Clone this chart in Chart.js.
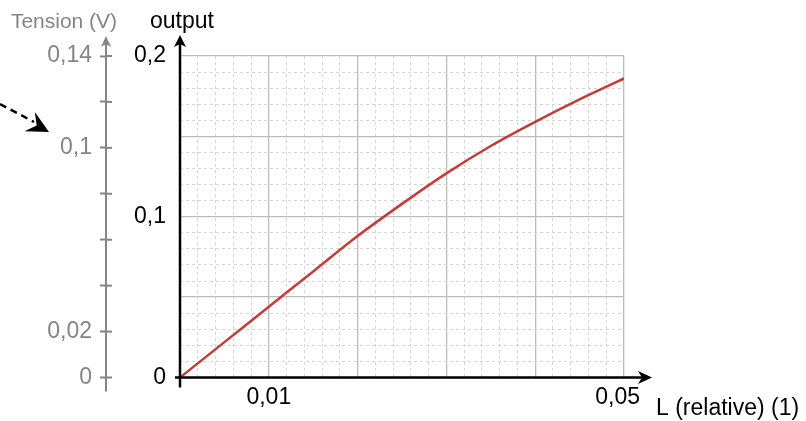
<!DOCTYPE html>
<html>
<head>
<meta charset="utf-8">
<script src="https://cdn.jsdelivr.net/npm/chart.js@4/dist/chart.umd.min.js"></script>
<style>
  body { margin: 0; background: #fff; }
  canvas { display: block; }
</style>
</head>
<body>
<canvas id="chart" width="806" height="421"></canvas>
<script>
// values
const lengthValues = [0, 0.005, 0.01, 0.015, 0.02, 0.025, 0.03, 0.035, 0.04, 0.045, 0.05];
const outputValues = [0, 0.022, 0.044, 0.066, 0.088, 0.108, 0.127, 0.144, 0.159, 0.173, 0.186];

// tick labels that are actually printed
const xTickLabels = { 0.01: '0,01', 0.05: '0,05  ' };
const yTickLabels = { 0: '0', 0.1: '0,1', 0.2: '0,2' };
const tensionTickLabels = { 0: '0', 0.02: '0,02', 0.1: '0,1', 0.14: '0,14' };

const FONT = "'Liberation Sans', Arial, sans-serif";
const GRAY = '#858585';

function pickLabel(table, value) {
    for (const k of Object.keys(table)) {
        if (Math.abs(Number(k) - value) < 1e-9) return table[k];
    }
    return '';
}

// grid: every 5th line solid, the others dashed
const gridColor = (ctx) => ctx.index % 5 === 0 ? '#bdbdbd' : '#d4d4d4';
const gridWidth = (ctx) => ctx.index % 5 === 0 ? 1.3 : 1;
const gridDash = (ctx) => (ctx.type === 'tick' && ctx.index % 5 !== 0) ? [3, 3] : [];

function arrowHead(ctx, tipX, tipY, dirX, dirY, len, half, notch) {
    const px = -dirY, py = dirX;
    const bx = tipX - dirX * len, by = tipY - dirY * len;
    ctx.beginPath();
    ctx.moveTo(tipX, tipY);
    ctx.lineTo(bx + px * half, by + py * half);
    ctx.lineTo(tipX - dirX * (len - notch), tipY - dirY * (len - notch));
    ctx.lineTo(bx - px * half, by - py * half);
    ctx.closePath();
    ctx.fill();
}

// axis lines, arrows and titles
const decorPlugin = {
    id: 'decor',
    afterDraw(chart) {
        const ctx = chart.ctx;
        const area = chart.chartArea;
        const tension = chart.scales.yT;
        ctx.save();

        // gray tension axis
        const gx = tension.right;
        ctx.strokeStyle = GRAY;
        ctx.fillStyle = GRAY;
        ctx.lineWidth = 2;
        ctx.beginPath();
        ctx.moveTo(gx, area.bottom + 14);
        ctx.lineTo(gx, 44);
        ctx.stroke();
        arrowHead(ctx, gx, 36, 0, -1, 11, 5, 3);
        // tick marks cross the axis
        tension.ticks.forEach((t) => {
            const y = tension.getPixelForValue(t.value);
            ctx.beginPath();
            ctx.moveTo(gx, y);
            ctx.lineTo(gx + 6, y);
            ctx.stroke();
        });

        // black axes
        ctx.strokeStyle = '#000';
        ctx.fillStyle = '#000';
        ctx.lineWidth = 2.5;
        ctx.beginPath();
        ctx.moveTo(area.left, area.bottom + 10);
        ctx.lineTo(area.left, 42);
        ctx.moveTo(area.left - 5, area.bottom);
        ctx.lineTo(644, area.bottom);
        ctx.stroke();
        arrowHead(ctx, area.left, 35, 0, -1, 12, 6, 3);
        arrowHead(ctx, 652, area.bottom, 1, 0, 14, 6.5, 4);

        // dashed pointer on the left
        ctx.lineWidth = 2.5;
        ctx.setLineDash([7, 5]);
        ctx.beginPath();
        ctx.moveTo(0, 104);
        ctx.lineTo(34, 122);
        ctx.stroke();
        ctx.setLineDash([]);
        arrowHead(ctx, 49, 132, 0.88, 0.47, 22, 11, 8);

        // titles
        ctx.textBaseline = 'middle';
        ctx.textAlign = 'center';
        ctx.font = '23px ' + FONT;
        ctx.fillStyle = '#000';
        ctx.fillText('output', area.left + 2, 22);
        ctx.fillStyle = GRAY;
        ctx.font = '21px ' + FONT;
        ctx.fillText('Tension (V)', 64, 22);
        ctx.fillStyle = '#000';
        ctx.font = '23px ' + FONT;
        ctx.textAlign = 'left';
        ctx.fillText('L (relative) (1)', 656, 409);
        ctx.restore();
    }
};

new Chart(document.getElementById('chart'), {
    type: 'line',
    data: {
        datasets: [{
            data: lengthValues.map((x, i) => ({ x: x, y: outputValues[i] })),
            borderColor: '#c43c3a',
            borderWidth: 2.5,
            pointRadius: 0,
            cubicInterpolationMode: 'monotone',
            fill: false
        }]
    },
    options: {
        responsive: false,
        animation: false,
        layout: { padding: { left: 0, right: 182, top: 56, bottom: 3 } },
        plugins: { legend: { display: false }, tooltip: { enabled: false } },
        scales: {
            x: {
                type: 'linear',
                min: 0,
                max: 0.05,
                afterBuildTicks: (scale) => {
                    scale.ticks = [];
                    for (let i = 0; i <= 25; i++) scale.ticks.push({ value: i * 0.002 });
                },
                afterFit: (scale) => { scale.height = 40.5; },
                grid: { color: gridColor, lineWidth: gridWidth, drawTicks: false },
                border: { display: false, dash: gridDash },
                ticks: {
                    autoSkip: false,
                    maxRotation: 0,
                    padding: 6,
                    color: '#000',
                    font: { family: FONT, size: 23 },
                    callback: (v) => pickLabel(xTickLabels, v)
                }
            },
            y: {
                type: 'linear',
                position: 'left',
                weight: 0,
                min: 0,
                max: 0.2,
                afterBuildTicks: (scale) => {
                    scale.ticks = [];
                    for (let i = 0; i <= 20; i++) scale.ticks.push({ value: i * 0.01 });
                },
                afterFit: (scale) => { scale.width = 74; },
                grid: { color: gridColor, lineWidth: gridWidth, drawTicks: false },
                border: { display: false, dash: gridDash },
                ticks: {
                    autoSkip: false,
                    padding: 14,
                    color: '#000',
                    font: { family: FONT, size: 23 },
                    callback: (v) => pickLabel(yTickLabels, v)
                }
            },
            yT: {
                type: 'linear',
                position: 'left',
                weight: 1,
                min: 0,
                max: 0.14,
                afterBuildTicks: (scale) => {
                    scale.ticks = [];
                    for (let i = 0; i <= 7; i++) scale.ticks.push({ value: i * 0.02 });
                },
                afterFit: (scale) => { scale.width = 106; },
                grid: {
                    drawOnChartArea: false,
                    drawTicks: true,
                    tickLength: 6,
                    tickColor: GRAY,
                    tickWidth: 2
                },
                border: { display: false },
                ticks: {
                    autoSkip: false,
                    padding: 8,
                    color: GRAY,
                    font: { family: FONT, size: 23 },
                    callback: (v) => pickLabel(tensionTickLabels, v)
                }
            }
        }
    },
    plugins: [decorPlugin]
});
</script>
</body>
</html>
